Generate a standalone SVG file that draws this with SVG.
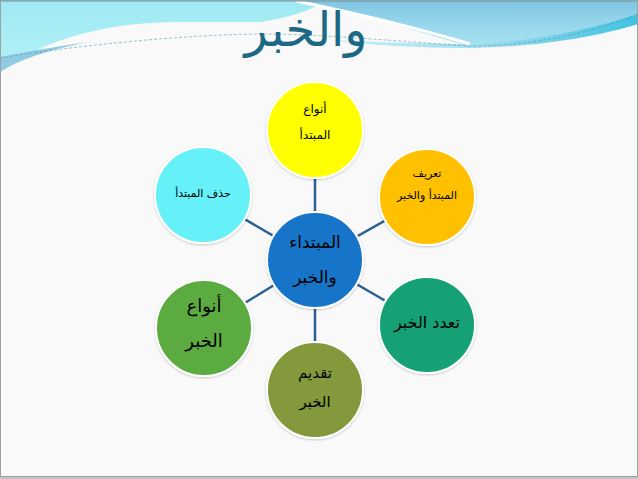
<svg xmlns="http://www.w3.org/2000/svg" width="638" height="479" viewBox="0 0 638 479">
<defs>
<linearGradient id="gL" x1="0" y1="0" x2="0" y2="1">
<stop offset="0" stop-color="#9fe9f3"/><stop offset="1" stop-color="#b4f1f7"/>
</linearGradient>
<linearGradient id="gR" x1="0" y1="0" x2="0" y2="1">
<stop offset="0" stop-color="#7fc4e2"/><stop offset="0.5" stop-color="#96d6ec"/><stop offset="1" stop-color="#a6e2f0"/>
</linearGradient>
<linearGradient id="gS" x1="0" y1="0" x2="1" y2="0">
<stop offset="0" stop-color="#c4f0f6"/><stop offset="0.5" stop-color="#9edcee"/><stop offset="1" stop-color="#3fc2e0"/>
</linearGradient>
<filter id="sh" x="-20%" y="-20%" width="140%" height="140%">
<feDropShadow dx="0" dy="1" stdDeviation="1" flood-color="#000" flood-opacity="0.2"/>
</filter>
</defs>
<style>
.node circle{stroke:#ffffff;stroke-width:2;filter:url(#sh)}
.lbl{font-family:"DejaVu Sans",sans-serif;fill:#000;text-anchor:middle}
.conn line{stroke:#2c5f92;stroke-width:2.5}
</style>
<rect x="0" y="0" width="638" height="479" fill="#f9f9f9"/>
<g id="background">
<path d="M0,0 H330 C310,10 290,18 260,22 L180,22 C100,22 40,42 0,72 Z" fill="url(#gL)"/>
<path d="M0,57 C30,51 60,46 95,41 C55,48 22,58 0,72 Z" fill="#8fcbe2"/>
<path d="M300,0 H638 V20 C600,33 540,45 470,46 C430,36 380,18 300,0 Z" fill="url(#gR)"/>
<path d="M330,40 C380,42 430,44 470,44 C530,42 590,30 638,14 V24 C600,36 540,47 470,48 C420,48 370,45 330,40 Z" fill="url(#gS)"/>
<path d="M296,1 C380,18 430,32 470,44" fill="none" stroke="#ffffff" stroke-width="3"/>
<path d="M0,58 C80,45 180,35 260,34 C320,34 380,40 470,46 C540,46 600,30 638,14" fill="none" stroke="#4a93ad" stroke-width="1" stroke-dasharray="3,2" opacity="0.55"/>
<rect x="0" y="0" width="638" height="1.5" fill="#5a9cba"/>
</g>
<text x="306" y="46" font-family="'DejaVu Sans',sans-serif" font-size="48" fill="#1b6984" text-anchor="middle">والخبر</text>
<g id="connectors" class="conn">
<line x1="315" y1="260" x2="315" y2="130"/>
<line x1="315" y1="260" x2="427" y2="197"/>
<line x1="315" y1="260" x2="427" y2="325"/>
<line x1="315" y1="260" x2="315" y2="390"/>
<line x1="315" y1="260" x2="204" y2="328"/>
<line x1="315" y1="260" x2="203" y2="195"/>
</g>
<g id="node-top" class="node">
<circle cx="315" cy="130" r="48" fill="#ffff00"/>
<text class="lbl" x="315" y="113" font-size="12">أنواع</text>
<text class="lbl" x="315" y="139" font-size="12">المبتدأ</text>
</g>
<g id="node-topright" class="node">
<circle cx="427" cy="197" r="48" fill="#ffc000"/>
<text class="lbl" x="427" y="177" font-size="11">تعريف</text>
<text class="lbl" x="427" y="199" font-size="11">المبتدأ والخبر</text>
</g>
<g id="node-topleft" class="node">
<circle cx="203" cy="195" r="48" fill="#66f0f7"/>
<text class="lbl" x="203" y="197" font-size="11">حذف المبتدأ</text>
</g>
<g id="node-center" class="node">
<circle cx="315" cy="260" r="48" fill="#1874c8"/>
<text class="lbl" x="315" y="248" font-size="17">المبتداء</text>
<text class="lbl" x="315" y="283" font-size="17">والخبر</text>
</g>
<g id="node-bottomleft" class="node">
<circle cx="204" cy="328" r="48" fill="#5bab3f"/>
<text class="lbl" x="204" y="312" font-size="18">أنواع</text>
<text class="lbl" x="204" y="347" font-size="18">الخبر</text>
</g>
<g id="node-bottomright" class="node">
<circle cx="427" cy="325" r="48" fill="#13a075"/>
<text class="lbl" x="427" y="328" font-size="16">تعدد الخبر</text>
</g>
<g id="node-bottom" class="node">
<circle cx="315" cy="390" r="48" fill="#83993a"/>
<text class="lbl" x="315" y="378" font-size="15">تقديم</text>
<text class="lbl" x="315" y="407" font-size="15">الخبر</text>
</g>
<rect x="0.5" y="0.5" width="637" height="476" fill="none" stroke="#9aa0a4" stroke-width="1"/>
<rect x="0" y="477" width="638" height="2" fill="#c4c4c4"/>
</svg>
